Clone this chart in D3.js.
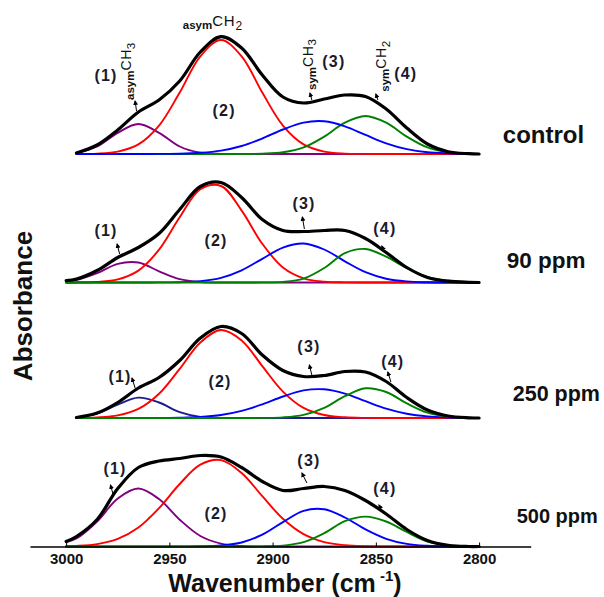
<!DOCTYPE html>
<html>
<head>
<meta charset="utf-8">
<script src="https://cdn.jsdelivr.net/npm/d3@7"></script>
<style>
  html, body { margin: 0; padding: 0; background: #fff; }
  svg { display: block; font-family: Arial, "Liberation Sans", sans-serif; }
</style>
</head>
<body>
<svg id="chart" width="604" height="597"></svg>
<script>
// ---------------- data ----------------
const wavenumbers = [3000, 2995, 2985, 2975, 2965, 2955, 2945, 2935, 2925, 2915, 2905,
                     2895, 2885, 2875, 2865, 2855, 2845, 2835, 2825, 2815, 2805, 2800];
const xTicks = [3000, 2950, 2900, 2850, 2800];
const panelNames = ["control", "90 ppm", "250 ppm", "500 ppm"];
const panelOffsets = [3.925, 2.64, 1.285, 0];

// control
const control_band1 = [null, .013, .075, .212, .30, .212, .075, .013, .001, 0, 0, 0, 0, 0, 0, 0, 0, 0, 0, 0, 0, 0];
const control_band2 = [null, .001, .004, .024, .096, .284, .615, .977, 1.14, .977, .615, .284, .096, .024, .004, .001, 0, 0, 0, 0, 0, 0];
const control_band3 = [null, 0, 0, 0, 0, .001, .003, .012, .034, .08, .155, .245, .314, .327, .277, .191, .107, .049, .018, .006, .001, 0];
const control_band4 = [null, 0, 0, 0, 0, 0, 0, 0, 0, 0, .003, .017, .066, .174, .313, .38, .313, .174, .066, .017, .003, .001];
const control_total = [null, .01, .09, .24, .42, .54, .73, 1.02, 1.173, 1.06, .79, .57, .51, .55, .59, .575, .45, .26, .10, .023, .003, 0];

// 90 ppm
const ppm90_band1 = [.01, .024, .093, .187, .20, .112, .033, .005, 0, 0, 0, 0, 0, 0, 0, 0, 0, 0, 0, 0, 0, 0];
const ppm90_band2 = [0, .001, .006, .031, .119, .328, .652, .933, .965, .719, .387, .15, .042, .009, .001, 0, 0, 0, 0, 0, 0, 0];
const ppm90_band3 = [0, 0, 0, 0, 0, .001, .003, .014, .047, .122, .237, .349, .39, .33, .212, .103, .038, .011, .002, 0, 0, 0];
const ppm90_band4 = [0, 0, 0, 0, 0, 0, 0, 0, 0, 0, .001, .006, .039, .145, .294, .335, .258, .143, .057, .017, .004, .002];
const ppm90_total = [.02, .035, .12, .25, .35, .49, .73, .96, 1.00, .85, .63, .52, .51, .52, .52, .44, .30, .15, .05, .013, .002, 0];

// 250 ppm
const ppm250_band1 = [null, .007, .044, .135, .204, .155, .059, .011, .001, 0, 0, 0, 0, 0, 0, 0, 0, 0, 0, 0, 0, 0];
const ppm250_band2 = [null, .001, .006, .026, .091, .243, .492, .755, .88, .776, .519, .264, .101, .03, .007, .001, 0, 0, 0, 0, 0, 0];
const ppm250_band3 = [null, 0, 0, 0, 0, .001, .003, .01, .03, .071, .137, .215, .276, .287, .244, .168, .094, .043, .016, .005, .001, 0];
const ppm250_band4 = [null, 0, 0, 0, 0, 0, 0, 0, 0, 0, .001, .006, .031, .102, .218, .297, .26, .146, .053, .012, .002, 0];
const ppm250_total = [null, .005, .05, .155, .30, .405, .575, .80, .915, .845, .63, .475, .415, .425, .465, .46, .365, .205, .08, .02, .002, 0];

// 500 ppm
const ppm500_band1 = [.045, .08, .25, .48, .58, .474, .268, .105, .029, .005, .001, 0, 0, 0, 0, 0, 0, 0, 0, 0, 0, 0];
const ppm500_band2 = [.003, .006, .024, .076, .19, .384, .625, .819, .864, .735, .503, .277, .123, .044, .013, .003, .001, 0, 0, 0, 0, 0];
const ppm500_band3 = [0, 0, 0, 0, 0, 0, .001, .002, .01, .04, .118, .244, .357, .372, .29, .171, .077, .026, .007, .001, 0, 0];
const ppm500_band4 = [0, 0, 0, 0, 0, 0, 0, 0, 0, 0, .001, .009, .043, .133, .253, .299, .25, .145, .05, .013, .002, 0];
const ppm500_total = [.05, .10, .27, .58, .79, .855, .88, .91, .895, .79, .65, .56, .58, .60, .56, .46, .325, .17, .06, .012, 0, 0];

const band1Colors = ["#800080", "#800080", "#1c1c8e", "#800080"];
const bandColors = ["#ff0000", "#0000ff", "#008000"]; // bands 2,3,4
// drawing order of bands per panel (index into bands 0..3), total drawn last
const bandOrder = [[0, 1, 3, 2], [0, 1, 2, 3], [0, 1, 2, 3], [0, 1, 2, 3]];

// annotation positions in data coordinates [wavenumber, absorbance]
const numLabels = [
  [0, "(1)", 2980.7, 4.655], [0, "(2)", 2923.5, 4.305], [0, "(3)", 2870.3, 4.795], [0, "(4)", 2835.5, 4.675],
  [1, "(1)", 2980.7, 3.105], [1, "(2)", 2927.4, 3.005], [1, "(3)", 2884.8, 3.375], [1, "(4)", 2845.6, 3.125],
  [2, "(1)", 2973.9, 1.645], [2, "(2)", 2925.5, 1.595], [2, "(3)", 2882.4, 1.945], [2, "(4)", 2841.8, 1.795],
  [3, "(1)", 2976.3, 0.725], [3, "(2)", 2927.4, 0.275], [3, "(3)", 2882.4, 0.805], [3, "(4)", 2845.6, 0.525]
];
const arrows = [
  [2965.9, 4.355, 2966.6, 4.455], [2881.0, 4.465, 2881.9, 4.535], [2849.0, 4.465, 2850.0, 4.525],
  [2974.1, 2.925, 2975.3, 3.025], [2884.6, 3.175, 2885.6, 3.295], [2845.6, 2.935, 2847.1, 3.005],
  [2966.6, 1.585, 2968.1, 1.685], [2881.0, 1.715, 2882.2, 1.815], [2842.7, 1.645, 2844.2, 1.745],
  [2977.3, 0.525, 2978.5, 0.615], [2883.4, 0.635, 2885.8, 0.735], [2846.1, 0.325, 2848.5, 0.415]
];
const panelNamePos = [[2788.5, 4.035], [2786.6, 2.785], [2783.7, 1.455], [2781.8, 0.235]];
const panelNameSizes = [24, 22.5, 21.5, 20];

// ---------------- drawing ----------------
const svg = d3.select("#chart");
const X = d3.scaleLinear().domain([3017.5, 2775]).range([30, 530.7]);
const Y = d3.scaleLinear().domain([0, 5.2]).range([546.5, 26.5]);

const panels = [
  [control_band1, control_band2, control_band3, control_band4, control_total],
  [ppm90_band1, ppm90_band2, ppm90_band3, ppm90_band4, ppm90_total],
  [ppm250_band1, ppm250_band2, ppm250_band3, ppm250_band4, ppm250_total],
  [ppm500_band1, ppm500_band2, ppm500_band3, ppm500_band4, ppm500_total]
];

panels.forEach((series, p) => {
  const off = panelOffsets[p];
  const line = d3.line()
    .defined(d => d[1] != null)
    .x(d => X(d[0]))
    .y(d => Y(d[1] + off))
    .curve(d3.curveCatmullRom.alpha(0.5));
  const g = svg.append("g").attr("class", "panel");
  const order = bandOrder[p].concat([4]);
  order.forEach(i => {
    const vals = series[i];
    const pts = wavenumbers.map((w, k) => [w, vals[k]]);
    let color, width;
    if (i === 0) { color = band1Colors[p]; width = 1.9; }
    else if (i < 4) { color = bandColors[i - 1]; width = 1.9; }
    else { color = "#000"; width = 3.2; }
    g.append("path").datum(pts)
      .attr("d", line)
      .attr("fill", "none")
      .attr("stroke", color)
      .attr("stroke-width", width)
      .attr("stroke-linejoin", "round")
      .attr("stroke-linecap", "round");
  });
  svg.append("text")
    .attr("x", X(panelNamePos[p][0]))
    .attr("y", Y(panelNamePos[p][1]))
    .attr("font-size", panelNameSizes[p])
    .attr("font-weight", "bold")
    .attr("fill", "#111")
    .text(panelNames[p]);
});

// x axis
const axis = svg.append("g")
  .attr("transform", `translate(0,${Y(0)})`)
  .call(d3.axisBottom(X).tickValues(xTicks).tickFormat(d3.format("d"))
        .tickSizeInner(-4).tickSizeOuter(0).tickPadding(7));
axis.select(".domain").attr("stroke", "#000").attr("stroke-width", 1.3);
axis.selectAll(".tick line").attr("stroke", "#000").attr("stroke-width", 1);
axis.selectAll(".tick text")
  .attr("font-size", 15).attr("font-weight", "bold")
  .attr("font-family", "Arial, 'Liberation Sans', sans-serif").attr("fill", "#111");

// axis titles
const xt = svg.append("text")
  .attr("x", 285).attr("y", 592)
  .attr("text-anchor", "middle")
  .attr("font-size", 25).attr("font-weight", "bold").attr("fill", "#111");
xt.append("tspan").text("Wavenumber (cm");
xt.append("tspan").attr("font-size", 15).attr("dy", -11).text(" -1");
xt.append("tspan").attr("dy", 11).text(")");

svg.append("text")
  .attr("transform", "translate(32,306) rotate(-90)")
  .attr("text-anchor", "middle")
  .attr("font-size", 26).attr("font-weight", "bold").attr("fill", "#111")
  .text("Absorbance");

// numbered labels
numLabels.forEach(([p, t, w, v]) => {
  svg.append("text")
    .attr("x", X(w)).attr("y", Y(v))
    .attr("text-anchor", "middle")
    .attr("font-size", 16).attr("font-weight", "bold")
    .attr("letter-spacing", 1.2)
    .attr("fill", "#1a1a2e")
    .text(t);
});

// arrows
svg.append("defs").append("marker")
  .attr("id", "ah").attr("viewBox", "0 0 10 10")
  .attr("refX", 8).attr("refY", 5)
  .attr("markerWidth", 5).attr("markerHeight", 5)
  .attr("orient", "auto")
  .append("path").attr("d", "M0,0 L10,5 L0,10 z").attr("fill", "#000");
arrows.forEach(([w1, v1, w2, v2]) => {
  svg.append("line")
    .attr("x1", X(w1)).attr("y1", Y(v1))
    .attr("x2", X(w2)).attr("y2", Y(v2))
    .attr("stroke", "#000").attr("stroke-width", 1)
    .attr("marker-end", "url(#ah)");
});

// vibration labels
function vib(w, v, rotate, parts) {
  const t = svg.append("text")
    .attr("fill", "#111")
    .attr("transform", `translate(${X(w)},${Y(v)})` + (rotate ? " rotate(-90)" : ""));
  parts.forEach(([txt, size, dy, weight, ls]) => {
    t.append("tspan").attr("font-size", size).attr("dy", dy)
      .attr("font-weight", weight).attr("letter-spacing", ls).text(txt);
  });
}
vib(2943.5, 5.175, false, [["asym", 11.5, 0, "bold", 0], ["CH", 15, -3, "normal", 0.8], ["2", 12, 4, "normal", 0]]);
vib(2966.9, 4.465, true, [["asym", 11.5, 0, "bold", 0], ["CH", 14, -3, "normal", 0.6], ["3", 11.5, 3.5, "normal", 0]]);
vib(2879.0, 4.565, true, [["sym", 11.5, 0, "bold", 0], ["CH", 14, -3, "normal", 0.6], ["3", 11.5, 3.5, "normal", 0]]);
vib(2843.5, 4.548, true, [["sym", 11.5, 0, "bold", 0], ["CH", 14, -3, "normal", 0.6], ["2", 11.5, 3.5, "normal", 0]]);
</script>
</body>
</html>
